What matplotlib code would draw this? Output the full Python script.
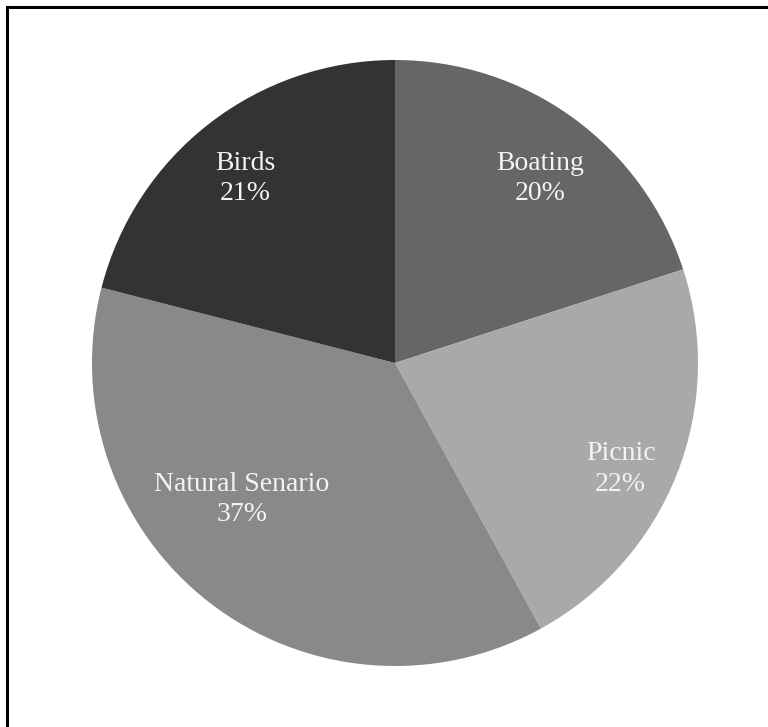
"""Pie chart of visitor activities"""
import matplotlib.pyplot as plt
from matplotlib.patches import Rectangle

categories = ["Boating", "Picnic", "Natural Senario", "Birds"]
shares = [20, 22, 37, 21]
colors = ["#666666", "#a9a9a9", "#898989", "#333333"]
# label anchor positions (pie radius units), placed "best fit" style
label_pos = [(0.48, 0.61), (0.745, -0.35), (-0.505, -0.45), (-0.495, 0.61)]

plt.rcParams["font.family"] = ["Liberation Serif", "DejaVu Serif"]

W, H = 768, 727
fig = plt.figure(figsize=(W / 100, H / 100), dpi=100)

# outer frame (only top/left visible in the crop)
fig.patches.append(Rectangle((6.5 / W, -0.1), 1.2, 1 - 6.5 / H + 0.1,
                             transform=fig.transFigure, fill=False,
                             edgecolor="black", linewidth=2.2))

cx, cy, r = 395, 363, 303
ax = fig.add_axes([(cx - r) / W, (H - cy - r) / H, 2 * r / W, 2 * r / H])
ax.pie(shares, colors=colors, startangle=90, counterclock=False,
       radius=1, wedgeprops=dict(linewidth=0))
ax.set_xlim(-1, 1)
ax.set_ylim(-1, 1)
ax.set_aspect("equal")
ax.axis("off")

for name, val, (x, y) in zip(categories, shares, label_pos):
    ax.text(x, y, f"{name}\n{val}%", ha="center", va="center",
            color="#f4f4f4", fontsize=20, linespacing=1.28)

plt.savefig("out.png", dpi=100)
